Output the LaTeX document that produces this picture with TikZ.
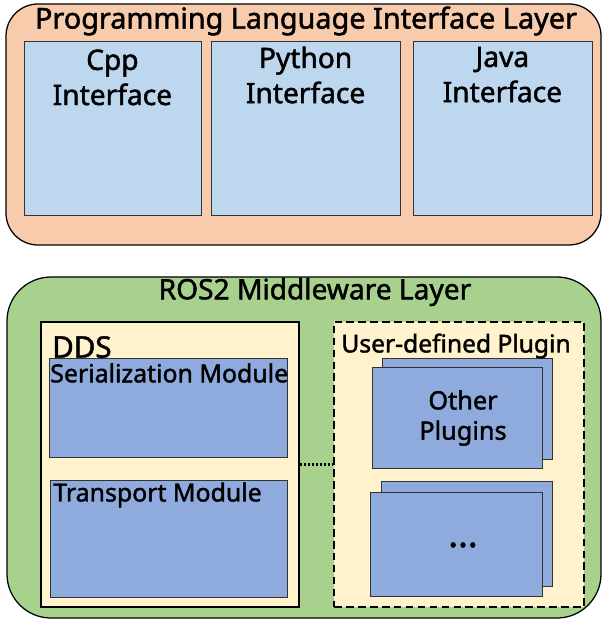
\documentclass[tikz,border=0pt]{standalone}
\usepackage{fontspec}
\setmainfont{Noto Sans}[FakeBold=1.6]
\usetikzlibrary{fit}
\definecolor{peach}{RGB}{248,203,173}
\definecolor{skyblue}{RGB}{189,215,238}
\definecolor{leaf}{RGB}{169,209,142}
\definecolor{cream}{RGB}{255,242,204}
\definecolor{cornflower}{RGB}{143,170,220}
\tikzset{%
    layer/.style={draw=black, line width=0.9pt, rounded corners=#1, inner sep=0pt},
    iface/.style={draw=black!80, fill=skyblue, line width=0.5pt, inner sep=0pt},
    module/.style={draw=black!80, fill=cornflower, line width=0.5pt, inner sep=0pt},
    container/.style={draw=black, fill=cream, line width=1.6pt, inner sep=0pt},
    txt/.style 2 args={inner sep=0pt, font=\fontsize{#1}{#2}\selectfont}
}

\begin{document}
\begin{tikzpicture}
    \useasboundingbox (0,0) rectangle (15.075,15.475);
    \node[layer=0.8cm, fill=peach, fit={(0.15,9.35) (15.025,15.375)}] (pllayer) {};
    \node[iface, fit={(0.6,10.1) (5.025,14.45)}] (cpp) {};
    \node[iface, fit={(5.275,10.1) (10.0,14.45)}] (python) {};
    \node[iface, fit={(10.325,10.1) (14.8,14.45)}] (java) {};
    \node[txt={20.5}{25}] (pltitle) at (7.65,14.95) {Programming Language Interface Layer};
    \node[txt={20}{25}, align=center] (cpplbl) at (2.81,13.54) {Cpp\\Interface};
    \node[txt={20}{25}, align=center] (pythonlbl) at (7.64,13.6) {Python\\Interface};
    \node[txt={20}{25}, align=center] (javalbl) at (12.56,13.61) {Java\\Interface};

    \node[layer=1.1cm, fill=leaf, fit={(0.175,0.025) (15.025,8.55)}] (rosslayer) {};
    \node[txt={20}{25}] (rostitle) at (7.875,8.175) {ROS2 Middleware Layer};
    \node[container, fit={(1.025,0.3) (7.475,7.425)}] (dds) {};
    \node[container, dash pattern=on 5.5pt off 3pt, fit={(8.35,0.3) (14.6,7.425)}] (plugin) {};
    \draw[line width=1.8pt, dash pattern=on 1.5pt off 1.3pt] (dds) -- (plugin);
    \node[module, fit={(1.225,4.05) (7.175,6.525)}] (serial) {};
    \node[module, fit={(1.25,0.55) (7.175,3.475)}] (transport) {};
    \node[module, fit={(9.55,4.0) (13.8,6.525)}] (otherback) {};
    \node[module, fit={(9.3,3.775) (13.55,6.3)}] (other) {};
    \node[module, fit={(9.525,0.825) (13.8,3.45)}] (moreback) {};
    \node[module, fit={(9.25,0.575) (13.55,3.175)}] (more) {};
    \node[txt={21}{25}, anchor=west] (ddslbl) at (1.3,6.8) {DDS};
    \node[txt={17.7}{21}, anchor=west] (seriallbl) at (1.25,6.15) {Serialization Module};
    \node[txt={17.7}{21}, anchor=west] (transportlbl) at (1.325,3.1) {Transport Module};
    \node[txt={17.5}{21}] (pluginlbl) at (11.4,6.825) {User-defined Plugin};
    \node[txt={18}{21.5}, align=center] (otherlbl) at (11.575,5.025) {Other\\Plugins};
    \node[inner sep=0pt, font=\fontsize{26}{26}\selectfont\bfseries] (morelbl) at (11.575,1.85) {...};
\end{tikzpicture}
\end{document}
